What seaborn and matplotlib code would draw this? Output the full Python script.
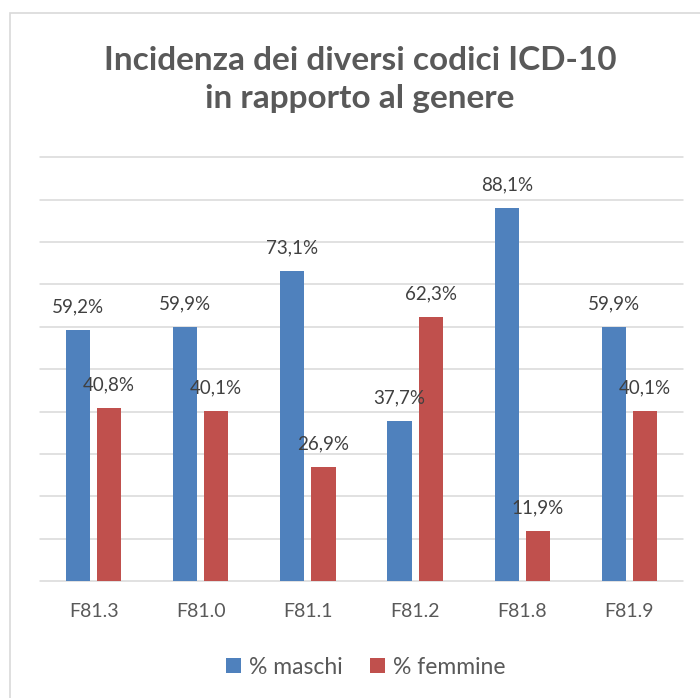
import matplotlib
matplotlib.use("Agg")
import matplotlib.pyplot as plt
from matplotlib.patches import Patch, Rectangle
import seaborn as sns
import pandas as pd

categories = ["F81.3", "F81.0", "F81.1", "F81.2", "F81.8", "F81.9"]
maschi = [59.2, 59.9, 73.1, 37.7, 88.1, 59.9]
femmine = [40.8, 40.1, 26.9, 62.3, 11.9, 40.1]
series_names = ["% maschi", "% femmine"]
title_lines = ["Incidenza dei diversi codici ICD-10", "in rapporto al genere"]

colors = ["#4F81BD", "#C0504D"]
text_gray = "#595959"
label_gray = "#404040"
grid_gray = "#D9D9D9"

df = pd.DataFrame({
    "cat": categories * 2,
    "val": maschi + femmine,
    "serie": [series_names[0]] * len(categories) + [series_names[1]] * len(categories),
})

sns.set_theme(style="white")
plt.rcParams["font.family"] = ["Lato", "DejaVu Sans"]

W, H = 700, 698
fig = plt.figure(figsize=(7.0, 6.98), dpi=100)
ax = fig.add_axes([40 / W, 1 - 581 / H, (683 - 40) / W, (581 - 157.3) / H])

sns.barplot(data=df, x="cat", y="val", hue="serie", order=categories,
            hue_order=series_names, palette=colors, width=0.58, gap=0.22,
            saturation=1, legend=False, ax=ax, edgecolor="none")

ax.set_ylim(0, 100)
ax.set_xlim(-0.5, len(categories) - 0.5)
ax.set_yticks(range(0, 101, 10))
ax.set_yticklabels([])
ax.grid(axis="y", color=grid_gray, linewidth=1.1)
ax.grid(axis="x", visible=False)
ax.set_axisbelow(True)
for gl in ax.get_ygridlines():
    gl.set_clip_on(False)
for s in ax.spines.values():
    s.set_visible(False)
ax.tick_params(axis="both", length=0)
ax.tick_params(axis="x", labelsize=14, labelcolor=text_gray, pad=16)
ax.set_xlabel("")
ax.set_ylabel("")

for cont in ax.containers:
    for bar in cont:
        v = bar.get_height()
        ax.annotate(f"{v:.1f}%".replace(".", ","),
                    (bar.get_x() + bar.get_width() / 2, v),
                    xytext=(0, 16.5), textcoords="offset points",
                    ha="center", va="center", fontsize=13.5, color=label_gray)

fig.text(360 / W, 1 - 69.5 / H, title_lines[0], ha="center", va="baseline",
         fontsize=24, fontweight="bold", color=text_gray)
fig.text(360 / W, 1 - 108 / H, title_lines[1], ha="center", va="baseline",
         fontsize=24, fontweight="bold", color=text_gray)

handles = [Patch(facecolor=c, edgecolor="none") for c in colors]
fig.legend(handles, series_names, loc="center", bbox_to_anchor=(366 / W, 1 - 667 / H),
           ncol=2, frameon=False, fontsize=16.5, labelcolor=text_gray,
           handlelength=0.65, handleheight=0.65, handletextpad=0.35,
           columnspacing=1.2)

fig.add_artist(Rectangle((10 / W, -0.05), 1.0, 1 - 13 / H + 0.05, transform=fig.transFigure,
                         fill=False, edgecolor=grid_gray, linewidth=1.2))

fig.savefig("out.png", dpi=100)
